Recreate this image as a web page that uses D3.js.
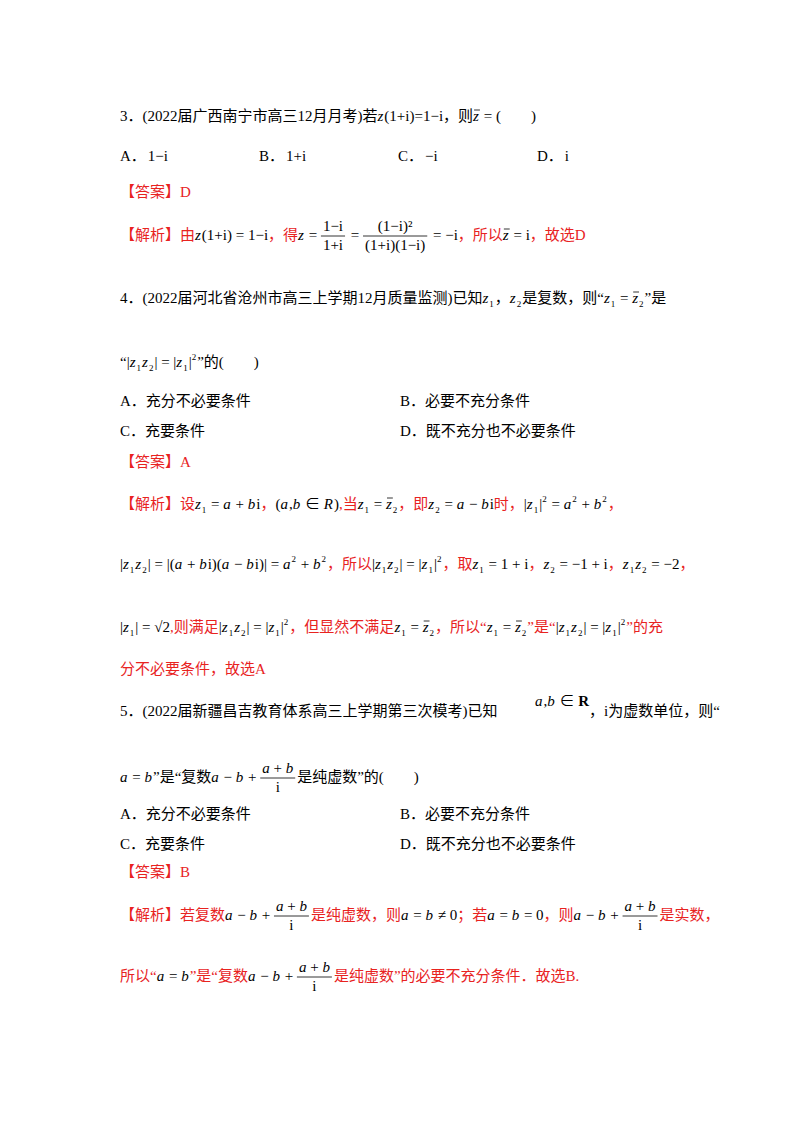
<!DOCTYPE html>
<html><head><meta charset="utf-8">
<script src="https://cdn.jsdelivr.net/npm/d3@7"></script>
<style>body{margin:0;background:#fff} text{white-space:pre}</style>
</head><body>
<svg id="page" width="800" height="1132"></svg>
<script>
// Page content, one entry per printed line
const K = '#000', R = '#e8231f';
const q3 = [
  ['3．(2022届广西南宁市高三12月月考)若', {i:'z'}, {m:'(1+i)=1−i'}, '，则', {bar:'z'}, {m:' = ('}, {m:'        )'}]
];
const q3Options = ['A．', '1−i', 'B．', '1+i', 'C．', '−i', 'D．', 'i'];
const q3Answer = ['【答案】D'];
const q3Solution = ['【解析】由', {i:'z'}, {m:'(1+i) = 1−i'}, '，得', {i:'z'}, {m:' = '}, {frac:['1−i','1+i']}, {m:' = '},
  {frac:['(1−i)²','(1+i)(1−i)']}, {m:' = −i'}, '，所以', {bar:'z'}, {m:' = i'}, '，故选D'];

const q4 = [
  ['4．(2022届河北省沧州市高三上学期12月质量监测)已知', {i:'z'}, {sub:'1'}, '，', {i:'z'}, {sub:'2'}, '是复数，则“', {i:'z'}, {sub:'1'}, {m:' = '}, {bar:'z'}, {sub:'2'}, '”是'],
  ['“', {m:'|'}, {i:'z'}, {sub:'1'}, {i:'z'}, {sub:'2'}, {m:'| = |'}, {i:'z'}, {sub:'1'}, {m:'|'}, {sup:'2'}, '”的(', {m:'        '}, ')']
];
const q4Options = ['A．充分不必要条件', 'B．必要不充分条件', 'C．充要条件', 'D．既不充分也不必要条件'];
const q4Answer = ['【答案】A'];
const q4Solution = [
  ['【解析】设', {i:'z'}, {sub:'1'}, {m:' = '}, {i:'a'}, {m:' + '}, {i:'b'}, {m:'i'}, '，', {m:'('}, {i:'a'}, {m:','}, {i:'b'}, {m:' ∈ '}, {i:'R'}, {m:')'}, ',当', {i:'z'}, {sub:'1'}, {m:' = '}, {bar:'z'}, {sub:'2'}, '，即', {i:'z'}, {sub:'2'}, {m:' = '}, {i:'a'}, {m:' − '}, {i:'b'}, {m:'i'}, '时，', {m:'|'}, {i:'z'}, {sub:'1'}, {m:'|'}, {sup:'2'}, {m:' = '}, {i:'a'}, {sup:'2'}, {m:' + '}, {i:'b'}, {sup:'2'}, '，'],
  [{m:'|'}, {i:'z'}, {sub:'1'}, {i:'z'}, {sub:'2'}, {m:'| = |('}, {i:'a'}, {m:' + '}, {i:'b'}, {m:'i)('}, {i:'a'}, {m:' − '}, {i:'b'}, {m:'i)| = '}, {i:'a'}, {sup:'2'}, {m:' + '}, {i:'b'}, {sup:'2'}, '，所以', {m:'|'}, {i:'z'}, {sub:'1'}, {i:'z'}, {sub:'2'}, {m:'| = |'}, {i:'z'}, {sub:'1'}, {m:'|'}, {sup:'2'}, '，取', {i:'z'}, {sub:'1'}, {m:' = 1 + i'}, '，', {i:'z'}, {sub:'2'}, {m:' = −1 + i'}, '，', {i:'z'}, {sub:'1'}, {i:'z'}, {sub:'2'}, {m:' = −2'}, '，'],
  [{m:'|'}, {i:'z'}, {sub:'1'}, {m:'| = √2'}, ',则满足', {m:'|'}, {i:'z'}, {sub:'1'}, {i:'z'}, {sub:'2'}, {m:'| = |'}, {i:'z'}, {sub:'1'}, {m:'|'}, {sup:'2'}, '，但显然不满足', {i:'z'}, {sub:'1'}, {m:' = '}, {bar:'z'}, {sub:'2'}, '，所以“', {i:'z'}, {sub:'1'}, {m:' = '}, {bar:'z'}, {sub:'2'}, '”是“', {m:'|'}, {i:'z'}, {sub:'1'}, {i:'z'}, {sub:'2'}, {m:'| = |'}, {i:'z'}, {sub:'1'}, {m:'|'}, {sup:'2'}, '”的充'],
  ['分不必要条件，故选A']
];

const q5 = [
  ['5．(2022届新疆昌吉教育体系高三上学期第三次模考)已知', {m:'          '}, {raise:[{i:'a'}, {m:','}, {i:'b'}, {m:' ∈ '}, {b:'R'}]}, '，i为虚数单位，则“'],
  [{i:'a'}, {m:' = '}, {i:'b'}, '”是“复数', {i:'a'}, {m:' − '}, {i:'b'}, {m:' + '}, {frac:[['a','+','b'],'i']}, '是纯虚数”的(', {m:'        '}, ')']
];
const q5Options = ['A．充分不必要条件', 'B．必要不充分条件', 'C．充要条件', 'D．既不充分也不必要条件'];
const q5Answer = ['【答案】B'];
const q5Solution = [
  ['【解析】若复数', {i:'a'}, {m:' − '}, {i:'b'}, {m:' + '}, {frac:[['a','+','b'],'i']}, '是纯虚数，则', {i:'a'}, {m:' = '}, {i:'b'}, {m:' ≠ 0'}, '；若', {i:'a'}, {m:' = '}, {i:'b'}, {m:' = 0'}, '，则', {i:'a'}, {m:' − '}, {i:'b'}, {m:' + '}, {frac:[['a','+','b'],'i']}, '是实数，'],
  ['所以“', {i:'a'}, {m:' = '}, {i:'b'}, '”是“复数', {i:'a'}, {m:' − '}, {i:'b'}, {m:' + '}, {frac:[['a','+','b'],'i']}, '是纯虚数”的必要不充分条件．故选B.']
];

const svg = d3.select('#page');
svg.append('rect').attr('width', 800).attr('height', 1132).attr('fill', '#fff');
const X0 = 120, FS = 15;
const SERIF = '"Liberation Serif","Noto Sans CJK SC",serif';

function put(g, x, y, s, opt) {
  const t = g.append('text').attr('x', x).attr('y', y).text(s)
    .attr('xml:space', 'preserve')
    .attr('font-family', SERIF).attr('font-size', opt.size || FS)
    .attr('fill', opt.color || K);
  if (opt.italic) t.attr('font-style', 'italic');
  if (opt.bold) t.attr('font-weight', 'bold');
  return t.node().getComputedTextLength();
}

function drawItems(g, items, x, y, color) {
  items.forEach(it => {
    if (typeof it === 'string') x += put(g, x, y, it, {color: color, size: 15});
    else if (it.m !== undefined) x += put(g, x, y, it.m, {});
    else if (it.i !== undefined) x += put(g, x, y, it.i, {italic: true}) + 1;
    else if (it.b !== undefined) x += put(g, x, y, it.b, {bold: true});
    else if (it.sub !== undefined) x += put(g, x, y + 4, it.sub, {size: 9}) + 1;
    else if (it.sup !== undefined) x += put(g, x, y - 7, it.sup, {size: 9}) + 1;
    else if (it.bar !== undefined) {
      const w = put(g, x, y, it.bar, {italic: true});
      g.append('line').attr('x1', x + 1).attr('x2', x + w + 1).attr('y1', y - 11).attr('y2', y - 11)
        .attr('stroke', K).attr('stroke-width', 0.8);
      x += w + 1;
    } else if (it.raise) {
      x = drawItems(g, it.raise, x, y - 10, color);
    } else if (it.frac) {
      const part = (p, yy) => {
        const gg = g.append('g');
        const w = Array.isArray(p)
          ? p.reduce((xx, c) => xx + put(gg, xx, yy, c === '+' ? ' + ' : c, {italic: c !== '+'}), 0)
          : put(gg, 0, yy, p, {});
        return {gg, w};
      };
      const n = part(it.frac[0], y - 9), d = part(it.frac[1], y + 10);
      const w = Math.max(n.w, d.w) + 4;
      n.gg.attr('transform', `translate(${x + (w - n.w) / 2},0)`);
      d.gg.attr('transform', `translate(${x + (w - d.w) / 2},0)`);
      g.append('line').attr('x1', x).attr('x2', x + w).attr('y1', y - 4).attr('y2', y - 4)
        .attr('stroke', K).attr('stroke-width', 0.8);
      x += w + 2;
    }
  });
  return x;
}

const g = svg.append('g');
function line(items, y, color) { drawItems(g, items, X0, y, color || K); }
function opts4(list, y) {
  const xs = d3.scalePoint().domain(d3.range(4)).range([X0, 537]);
  d3.range(4).forEach(k => {
    const x = xs(k);
    const w = put(g, x, y, list[2 * k], {size: 15});
    put(g, x + w + 2, y, list[2 * k + 1], {});
  });
}
function opts2(list, y) {
  const xs = d3.scalePoint().domain([0, 1]).range([X0, 400]);
  [[0, 1], [2, 3]].forEach((pair, r) => pair.forEach((k, c) => put(g, xs(c), y + r * 30, list[k], {size: 15})));
}

line(q3[0], 121);
opts4(q3Options, 161);
line(q3Answer, 197, R);
line(q3Solution, 240, R);

line(q4[0], 303);
line(q4[1], 367);
opts2(q4Options, 406);
line(q4Answer, 467, R);
[509, 569, 632, 674].forEach((y, k) => line(q4Solution[k], y, R));

line(q5[0], 716);
line(q5[1], 782);
opts2(q5Options, 819);
line(q5Answer, 877, R);
[920, 981].forEach((y, k) => line(q5Solution[k], y, R));
</script>
</body></html>
